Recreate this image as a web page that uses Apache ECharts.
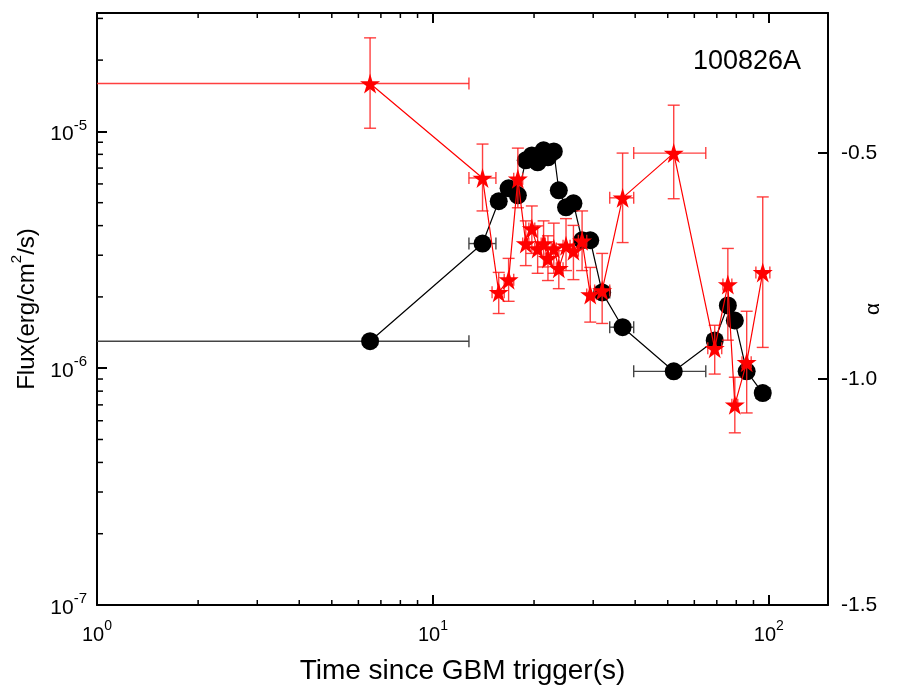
<!DOCTYPE html>
<html>
<head>
<meta charset="utf-8">
<script src="https://cdn.jsdelivr.net/npm/echarts@6/dist/echarts.min.js"></script>
<style>
html, body { margin: 0; padding: 0; background: #fff; }
#chart { width: 917px; height: 695px; }
</style>
</head>
<body>
<div id="chart"></div>
<script>
// time bins (s), shared by both series
const time = [6.5, 14.05, 15.7, 16.8, 17.9, 18.9, 19.7, 20.5, 21.35, 22.0, 22.9, 23.7, 24.9, 26.2, 27.8, 29.4, 31.9, 36.7, 52.1, 69.0, 75.5, 79.2, 85.9, 95.9]
const timeLo = [0.3, 12.8, 15.0, 16.3, 17.4, 18.5, 19.3, 20.1, 21.0, 21.6, 22.5, 23.3, 24.4, 25.6, 27.1, 28.7, 30.3, 33.6, 39.6, 65.8, 73.0, 77.6, 83.2, 91.5]
const timeHi = [12.8, 15.4, 16.3, 17.4, 18.5, 19.3, 20.1, 21.0, 21.6, 22.5, 23.3, 24.4, 25.6, 27.1, 28.7, 30.3, 33.6, 39.6, 64.9, 72.4, 77.6, 80.8, 88.6, 100.7]

// energy flux (erg/cm^2/s)
const flux = [1.30e-6, 3.36e-6, 5.07e-6, 5.75e-6, 5.37e-6, 7.55e-6, 7.92e-6, 7.40e-6, 8.32e-6, 7.77e-6, 8.23e-6, 5.64e-6, 4.78e-6, 4.97e-6, 3.47e-6, 3.47e-6, 2.09e-6, 1.49e-6, 0.97e-6, 1.31e-6, 1.84e-6, 1.59e-6, 0.97e-6, 0.785e-6]

// low-energy index alpha with errors
const alpha = [-0.346, -0.555, -0.808, -0.780, -0.557, -0.700, -0.667, -0.711, -0.700, -0.733, -0.711, -0.755, -0.705, -0.716, -0.694, -0.813, -0.804, -0.599, -0.500, -0.932, -0.791, -1.057, -0.963, -0.764]
const alphaHi = [-0.245, -0.480, -0.764, -0.733, -0.489, -0.650, -0.617, -0.661, -0.650, -0.683, -0.655, -0.716, -0.645, -0.660, -0.628, -0.753, -0.722, -0.500, -0.394, -0.881, -0.711, -0.996, -0.850, -0.597]
const alphaLo = [-0.445, -0.628, -0.855, -0.828, -0.621, -0.749, -0.722, -0.766, -0.752, -0.782, -0.766, -0.800, -0.760, -0.780, -0.760, -0.874, -0.877, -0.698, -0.601, -0.989, -0.914, -1.119, -1.075, -0.930]

const xMinorTicks = [2, 3, 4, 5, 6, 7, 8, 9, 20, 30, 40, 50, 60, 70, 80, 90]
const yMinorTicks = [2e-7, 3e-7, 4e-7, 5e-7, 6e-7, 7e-7, 8e-7, 9e-7, 2e-6, 3e-6, 4e-6, 5e-6, 6e-6, 7e-6, 8e-6, 9e-6, 2e-5, 3e-5]

const FONT = 'Liberation Sans'
const STAR = 'path://M50,0 L61,35 L98,35 L68,57 L79,91 L50,70 L21,91 L32,57 L2,35 L39,35 Z'

function supRich(size, supSize) {
  return {
    b: { fontSize: size, fontFamily: FONT, color: '#000', lineHeight: size + 6, verticalAlign: 'bottom' },
    s: { fontSize: supSize, fontFamily: FONT, color: '#000', lineHeight: size + 6, verticalAlign: 'top' },
  }
}

function powLabel(v) {
  const e = Math.log10(v)
  if (Math.abs(e - Math.round(e)) > 1e-6) return ''
  return '{b|10}{s|' + Math.round(e) + '}'
}

function errItem(color, cap, withY) {
  return function (params, api) {
    const x = api.value(0)
    const y = api.value(1)
    const a = api.coord([api.value(2), y])
    const b = api.coord([api.value(3), y])
    const style = { stroke: color, lineWidth: 1.4 }
    const kids = [
      { type: 'line', shape: { x1: a[0], y1: a[1], x2: b[0], y2: b[1] }, style },
      { type: 'line', shape: { x1: a[0], y1: a[1] - cap, x2: a[0], y2: a[1] + cap }, style },
      { type: 'line', shape: { x1: b[0], y1: b[1] - cap, x2: b[0], y2: b[1] + cap }, style },
    ]
    if (withY) {
      const c = api.coord([x, api.value(4)])
      const d = api.coord([x, api.value(5)])
      kids.push(
        { type: 'line', shape: { x1: c[0], y1: c[1], x2: d[0], y2: d[1] }, style },
        { type: 'line', shape: { x1: c[0] - cap, y1: c[1], x2: c[0] + cap, y2: c[1] }, style },
        { type: 'line', shape: { x1: d[0] - cap, y1: d[1], x2: d[0] + cap, y2: d[1] }, style }
      )
    }
    return { type: 'group', children: kids }
  }
}

const chart = echarts.init(document.getElementById('chart'))

const axisLine = { show: true, lineStyle: { color: '#000', width: 2 } }
const axisTick = { show: true, inside: true, length: 10, lineStyle: { color: '#000', width: 2 } }

chart.setOption({
  animation: false,
  backgroundColor: '#fff',
  title: {
    text: '100826A',
    right: 111,
    top: 43,
    textStyle: { fontFamily: FONT, fontSize: 27, fontWeight: 'normal', color: '#000' },
  },
  grid: { left: 97, right: 89, top: 13, bottom: 90 },
  xAxis: [
    {
      type: 'log',
      logBase: 10,
      min: 1,
      max: 150,
      position: 'bottom',
      axisLine,
      axisTick,
      splitLine: { show: false },
      axisLabel: { margin: 14, formatter: powLabel, rich: supRich(20, 14) },
      name: 'Time since GBM trigger(s)',
      nameLocation: 'middle',
      nameGap: 52,
      nameMoveOverlap: false,
      nameTextStyle: { fontFamily: FONT, fontSize: 28, color: '#000' },
    },
    {
      type: 'log',
      logBase: 10,
      min: 1,
      max: 150,
      position: 'top',
      axisLine,
      axisTick,
      splitLine: { show: false },
      axisLabel: { show: false },
    },
  ],
  yAxis: [
    {
      type: 'log',
      logBase: 10,
      min: 1e-7,
      max: 3.162e-5,
      position: 'left',
      axisLine,
      axisTick,
      splitLine: { show: false },
      axisLabel: { margin: 10, formatter: powLabel, rich: supRich(21, 15) },
      name: '{n|Flux(erg/cm}{u|2}{n|/s)}',
      nameLocation: 'middle',
      nameGap: 58,
      nameRotate: 90,
      nameMoveOverlap: false,
      nameTextStyle: {
        rich: {
          n: { fontFamily: FONT, fontSize: 24, color: '#000', lineHeight: 30, verticalAlign: 'bottom' },
          u: { fontFamily: FONT, fontSize: 15, color: '#000', lineHeight: 30, verticalAlign: 'top' },
        },
      },
    },
    {
      type: 'value',
      min: -1.5,
      max: -0.19,
      interval: 0.5,
      position: 'right',
      axisLine,
      axisTick,
      splitLine: { show: false },
      axisLabel: {
        margin: 13,
        fontFamily: FONT,
        fontSize: 21,
        color: '#000',
        formatter: v => (Math.abs(v * 2 - Math.round(v * 2)) < 1e-6 ? v.toFixed(1) : ''),
      },
      name: 'α',
      nameLocation: 'middle',
      nameGap: 35,
      nameRotate: 90,
      nameMoveOverlap: false,
      nameTextStyle: { fontFamily: FONT, fontSize: 21, color: '#000' },
    },
  ],
  series: [
    {
      type: 'custom',
      silent: true,
      clip: false,
      xAxisIndex: 0,
      yAxisIndex: 0,
      encode: { x: 0, y: 1 },
      data: xMinorTicks.map(v => [v, 1e-6]),
      renderItem: (params, api) => {
        const p = api.coord([api.value(0), api.value(1)])
        const cs = params.coordSys
        const style = { stroke: '#000', lineWidth: 1.5 }
        return {
          type: 'group',
          children: [
            { type: 'line', shape: { x1: p[0], y1: cs.y + cs.height, x2: p[0], y2: cs.y + cs.height - 5 }, style },
            { type: 'line', shape: { x1: p[0], y1: cs.y, x2: p[0], y2: cs.y + 5 }, style },
          ],
        }
      },
    },
    {
      type: 'custom',
      silent: true,
      clip: false,
      xAxisIndex: 0,
      yAxisIndex: 0,
      encode: { x: 0, y: 1 },
      data: yMinorTicks.map(v => [10, v]),
      renderItem: (params, api) => {
        const p = api.coord([api.value(0), api.value(1)])
        const cs = params.coordSys
        return {
          type: 'line',
          shape: { x1: cs.x, y1: p[1], x2: cs.x + 6, y2: p[1] },
          style: { stroke: '#000', lineWidth: 1.5 },
        }
      },
    },
    {
      name: 'flux err',
      type: 'custom',
      clip: true,
      silent: true,
      xAxisIndex: 0,
      yAxisIndex: 0,
      encode: { x: 0, y: 1 },
      data: time.map((t, i) => [t, flux[i], timeLo[i], timeHi[i]]),
      renderItem: errItem('#444', 6, false),
      z: 2,
    },
    {
      name: 'Flux',
      type: 'line',
      xAxisIndex: 0,
      yAxisIndex: 0,
      data: time.map((t, i) => [t, flux[i]]),
      symbol: 'circle',
      symbolSize: 18,
      itemStyle: { color: '#000' },
      lineStyle: { color: '#000', width: 1.2 },
      z: 3,
    },
    {
      name: 'alpha err',
      type: 'custom',
      clip: true,
      silent: true,
      xAxisIndex: 0,
      yAxisIndex: 1,
      encode: { x: 0, y: 1 },
      data: time.map((t, i) => [t, alpha[i], timeLo[i], timeHi[i], alphaLo[i], alphaHi[i]]),
      renderItem: errItem('rgba(255,30,30,0.85)', 6, true),
      z: 4,
    },
    {
      name: 'alpha',
      type: 'line',
      xAxisIndex: 0,
      yAxisIndex: 1,
      data: time.map((t, i) => [t, alpha[i]]),
      symbol: STAR,
      symbolSize: 20,
      itemStyle: { color: '#ff0000' },
      lineStyle: { color: '#ff0000', width: 1.2 },
      z: 5,
    },
  ],
})
</script>
</body>
</html>
